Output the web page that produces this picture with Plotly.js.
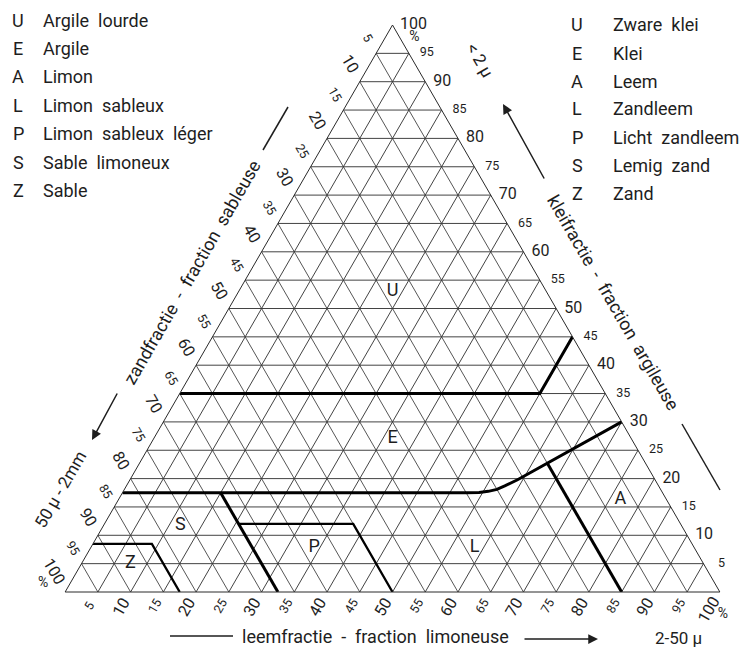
<!DOCTYPE html>
<html><head><meta charset="utf-8">
<script src="https://cdn.plot.ly/plotly-3.0.1.min.js"></script>
<style>html,body{margin:0;padding:0;background:#fff}</style>
</head><body>
<div id="chart" style="width:754px;height:647px"></div>
<script>
// ---------------- data ----------------
const tickValues = [5,10,15,20,25,30,35,40,45,50,55,60,65,70,75,80,85,90,95,100];

const legendCodes = ['U','E','A','L','P','S','Z'];
const legendFr = ['Argile  lourde','Argile','Limon','Limon  sableux','Limon  sableux  léger','Sable  limoneux','Sable'];
const legendNl = ['Zware  klei','Klei','Leem','Zandleem','Licht  zandleem','Lemig  zand','Zand'];

// class boundaries, given as clay % and sand % (silt = the remainder)
const uLineClay = [35, 35, 45];
const uLineSand = [65, 10, 0];
const eLineClay = [17.5, 17.5, 17.55, 17.75, 18.1, 18.7, 19.8, 30];
const eLineSand = [82.5, 30, 28, 26.5, 25, 23.5, 21, 0];
const aLineClay = [0, 22.7];
const aLineSand = [15, 15];
const sLineClay = [0, 17.5];
const sLineSand = [67.5, 67.5];
const pLineClay = [12, 12, 0];
const pLineSand = [67.5, 50, 50];
const zLineClay = [8.5, 8.5, 0];
const zLineSand = [91.5, 82.5, 82.5];

const regionCodes = ['U','E','A','L','P','S','Z'];
const regionClay = [53, 27, 16.4, 7.9, 7.9, 11.8, 5.1];
const regionSand = [23.5, 36.5, 7, 33.5, 58, 76.5, 87.5];

// the three 100 % corners: clay, sand
const cornerClay = [100, 0, 0];
const cornerSand = [0, 100, 0];

// ---------------- build ----------------
const FONT = 'Roboto, "DejaVu Sans", sans-serif';
const INK = '#1e1e1e';
const silt = (c, s) => c.map((v, i) => 100 - v - s[i]);
const isMajor = v => v % 10 === 0;
const zeros = tickValues.map(() => 0);

function bline(clay, sand, w) {
  return {type:'scatterternary', mode:'lines', a: clay, b: sand, c: silt(clay, sand),
    line:{color:'#000', width:w}, hoverinfo:'skip', showlegend:false, cliponaxis:false};
}
function textTrace(uid, a, b, c, text, size) {
  return {type:'scatterternary', mode:'text', uid, a, b, c, text, textposition:'middle center',
    textfont:{family:FONT, size, color:INK}, hoverinfo:'skip', showlegend:false, cliponaxis:false};
}

const sizes = tickValues.map(v => isMajor(v) ? 16 : 12.5);
const labels = tickValues.map(String);
const comp = tickValues.map(v => 100 - v);

const traces = [
  bline(uLineClay, uLineSand, 3),
  bline(eLineClay, eLineSand, 3),
  bline(aLineClay, aLineSand, 3),
  bline(sLineClay, sLineSand, 3),
  bline(pLineClay, pLineSand, 2.3),
  bline(zLineClay, zLineSand, 2.3),
  // labels sit on the triangle edge where their grid line ends; standoff applied after drawing
  textTrace('tickClay', tickValues, zeros, comp, labels, sizes),
  textTrace('tickSand', comp, tickValues, zeros, labels, sizes),
  textTrace('tickSilt', zeros, comp, tickValues, labels, sizes),
  textTrace('pct', cornerClay, cornerSand, silt(cornerClay, cornerSand), ['%','%','%'], 14),
  textTrace('regions', regionClay, regionSand, silt(regionClay, regionSand), regionCodes, 18)
];

// label standoff (pixels) along the continuation of each grid line, and rotation
const dirClay = [1, 0], dirSand = [-0.5, -0.866], dirSilt = [-0.5, 0.866];
const standClay = tickValues.map(v => v === 100 ? 21 : (isMajor(v) ? 17 : 18));
const standSand = tickValues.map(v => v === 100 ? 22 : (isMajor(v) ? 19 : 16.5));
const standSilt = tickValues.map(v => v === 100 ? 22 : (isMajor(v) ? 19 : 17.5));
const textFx = {
  tickClay: {angle: 0,   off: standClay.map(s => [s * dirClay[0], s * dirClay[1]])},
  tickSand: {angle: 60,  off: standSand.map(s => [s * dirSand[0], s * dirSand[1]])},
  tickSilt: {angle: -60, off: standSilt.map(s => [s * dirSilt[0], s * dirSilt[1]])},
  pct:      {angle: 0,   off: [[22, 12], [-22, -9], [3, 22]]}
};

const W = 754, H = 647;
const px = x => x / W, py = y => 1 - y / H;

function ax() {
  return {title:{text:''}, min:0, tickmode:'linear', tick0:0, dtick:5, ticks:'', showticklabels:false,
    showgrid:true, gridcolor:'#383838', gridwidth:0.85, showline:true, linecolor:'#2a2a2a', linewidth:1};
}

const annotations = [];
const nb = s => s.replace(/ /g, '\u00a0');
legendCodes.forEach((code, i) => {
  const yL = 20 + i * 28.4, yR = 25 + i * 28;
  const f = {family:FONT, size:18, color:INK};
  annotations.push({xref:'paper', yref:'paper', x:px(18), y:py(yL), text:code, showarrow:false,
    xanchor:'center', yanchor:'middle', font:f});
  annotations.push({xref:'paper', yref:'paper', x:px(41), y:py(yL), text:nb(legendFr[i]), showarrow:false,
    xanchor:'left', yanchor:'middle', font:f});
  annotations.push({xref:'paper', yref:'paper', x:px(577), y:py(yR), text:code, showarrow:false,
    xanchor:'center', yanchor:'middle', font:f});
  annotations.push({xref:'paper', yref:'paper', x:px(611), y:py(yR), text:nb(legendNl[i]), showarrow:false,
    xanchor:'left', yanchor:'middle', font:f});
});

function title(text, x, y, ang, size) {
  annotations.push({xref:'paper', yref:'paper', x:px(x), y:py(y), text:nb(text), textangle:ang,
    showarrow:false, xanchor:'center', yanchor:'middle', font:{family:FONT, size:size, color:INK}});
}
title('zandfractie  -  fraction  sableuse', 191.5, 272, -60, 18);
title('50 µ - 2mm', 60, 490, -60, 17);
title('kleifractie  -  fraction  argileuse', 613.5, 302.5, 60, 18);
title('&lt; 2 µ', 480, 60, 60, 17);
title('leemfractie  -  fraction  limoneuse', 375.5, 636, 0, 18);
title('2-50 µ', 678, 638, 0, 17);

function arrow(hx, hy, tx, ty) {
  annotations.push({xref:'paper', yref:'paper', x:px(hx), y:py(hy), ax:tx - hx, ay:ty - hy, text:'',
    showarrow:true, arrowhead:2, arrowsize:1.3, arrowwidth:1.5, arrowcolor:INK, standoff:0, startstandoff:0});
}
arrow(92, 440, 118, 392);
arrow(503, 104, 545, 180);
arrow(598, 639, 523, 639);

const shapes = [
  [263,150,288,107],
  [682,424,720,490],
  [170,636,233,636]
].map(([x0,y0,x1,y1]) => ({type:'line', xref:'paper', yref:'paper', x0:px(x0), y0:py(y0), x1:px(x1), y1:py(y1),
  line:{color:INK, width:1.5}}));

const layout = {
  width: W, height: H,
  margin:{l:0, r:0, t:0, b:0},
  paper_bgcolor:'#ffffff',
  showlegend:false,
  ternary:{
    sum:100,
    domain:{x:[65/W, 720/W], y:[(H-592)/H, (H-25)/H]},
    bgcolor:'#ffffff',
    aaxis: ax(), baxis: ax(), caxis: ax()
  },
  annotations, shapes
};

Plotly.newPlot('chart', traces, layout, {staticPlot:true, displayModeBar:false}).then(gd => {
  gd.querySelectorAll('g.trace').forEach(g => {
    let uid = null;
    const d = g.__data__;
    if (d && d[0] && d[0].trace) uid = d[0].trace.uid;
    if (!textFx[uid]) {
      const cls = g.getAttribute('class') || '';
      Object.keys(textFx).forEach(k => { if (cls.indexOf(k) >= 0) uid = k; });
    }
    const fx = textFx[uid];
    if (!fx) return;
    g.querySelectorAll('g.textpoint text').forEach((t, i) => {
      const bb = t.getBBox();
      const cx = bb.x + bb.width / 2, cy = bb.y + bb.height / 2;
      const o = fx.off[i] || [0, 0];
      t.setAttribute('transform', 'translate(' + o[0] + ' ' + o[1] + ') rotate(' + fx.angle + ' ' + cx + ' ' + cy + ')');
    });
  });
});
</script>
</body></html>
